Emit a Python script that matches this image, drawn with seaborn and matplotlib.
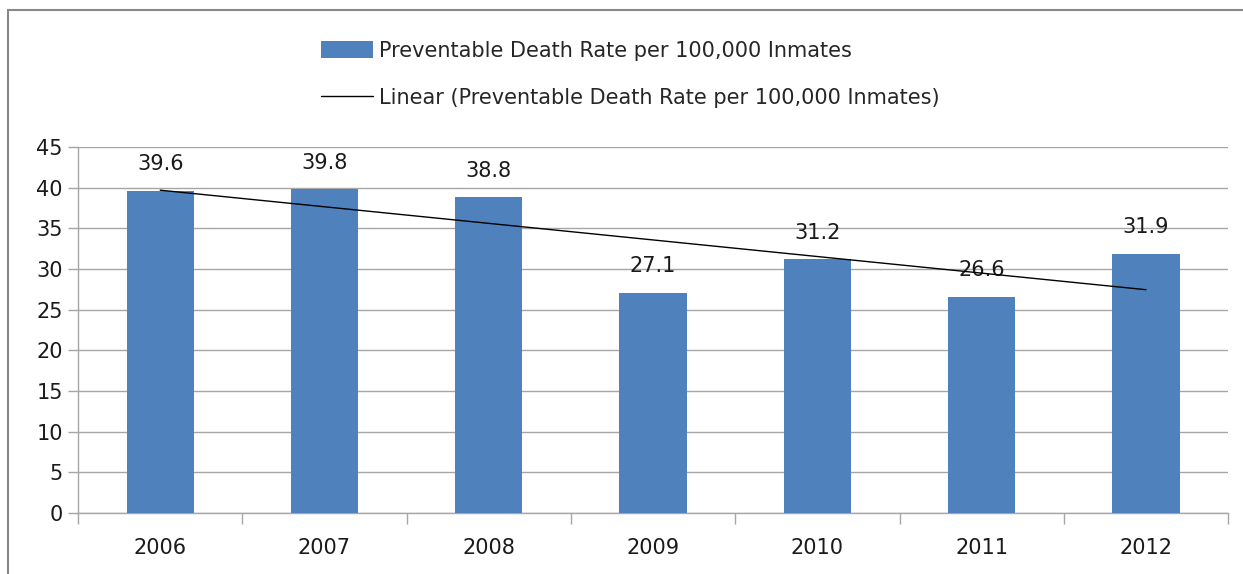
import matplotlib
matplotlib.use("Agg")
import matplotlib.pyplot as plt
from matplotlib.patches import Patch, Rectangle
from matplotlib.lines import Line2D
import seaborn as sns
import pandas as pd
import numpy as np

years = ["2006", "2007", "2008", "2009", "2010", "2011", "2012"]
rates = [39.6, 39.8, 38.8, 27.1, 31.2, 26.6, 31.9]
bar_label = "Preventable Death Rate per 100,000 Inmates"
trend_label = "Linear (Preventable Death Rate per 100,000 Inmates)"

df = pd.DataFrame({"Year": years, "Rate": rates})

sns.set_style("white")
plt.rcParams["font.family"] = ["DejaVu Sans"]

fig = plt.figure(figsize=(12.43, 5.74), dpi=100)
ax = fig.add_axes([0.0628, 0.1063, 0.9252, 0.6376])

bar_color = "#4f81bd"
grid_color = "#a6a6a6"

sns.barplot(data=df, x="Year", y="Rate", color=bar_color, width=0.41,
            saturation=1, ax=ax, zorder=3)
for b in ax.patches:
    b.set_edgecolor("none")

ax.bar_label(ax.containers[0], labels=[f"{v:.1f}" for v in rates],
             padding=12, fontsize=15, color="#1a1a1a")

# linear trend line
xs = np.arange(len(rates))
slope, icpt = np.polyfit(xs, rates, 1)
ax.plot(xs, slope * xs + icpt, color="black", lw=1, zorder=4)

ax.set_xlim(-0.5, len(years) - 0.5)
ax.set_ylim(0, 45)
ax.set_yticks(range(0, 46, 5))
ax.yaxis.grid(True, color=grid_color, lw=1)
ax.set_axisbelow(True)
ax.set_xlabel("")
ax.set_ylabel("")

# category boundary ticks
ax.set_xticks(np.arange(-0.5, len(years), 1), minor=False)
ax.set_xticklabels([])
ax.set_xticks(xs, minor=True)
ax.set_xticklabels(years, minor=True)
ax.tick_params(axis="x", which="major", direction="out", length=8,
               color=grid_color, width=1, bottom=True)
ax.tick_params(axis="x", which="minor", length=0, labelsize=15, pad=18,
               labelcolor="#1a1a1a")
ax.tick_params(axis="y", direction="out", length=7, color=grid_color,
               width=1, left=True, labelsize=15, labelcolor="#1a1a1a", pad=4)

for s in ["top", "right"]:
    ax.spines[s].set_visible(False)
for s in ["left", "bottom"]:
    ax.spines[s].set_color(grid_color)
    ax.spines[s].set_linewidth(1)

handles = [Patch(facecolor=bar_color, edgecolor="none"),
           Line2D([0], [0], color="black", lw=1)]
fig.legend(handles, [bar_label, trend_label], loc="upper left",
           bbox_to_anchor=(0.243, 0.962), frameon=False, fontsize=15,
           handlelength=2.5, handleheight=0.9, handletextpad=0.3,
           labelspacing=1.3)

# outer chart border
fig.patches.append(Rectangle((0.0064, -0.05), 1.1, 1.0326, transform=fig.transFigure,
                             fill=False, edgecolor="#888888", lw=1.5))

fig.savefig("out.png", dpi=100)
